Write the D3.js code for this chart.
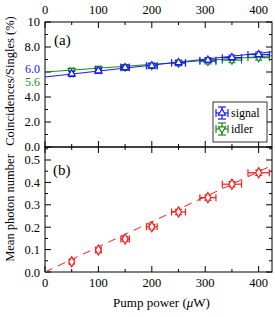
<!DOCTYPE html>
<html>
<head>
<meta charset="utf-8">
<script src="https://d3js.org/d3.v7.min.js"></script>
<style>
  body { margin: 0; background: #fff; }
  text { font-family: "Liberation Serif", "Times New Roman", serif; }
</style>
</head>
<body>
<div id="chart"></div>
<script>
// pump power (uW)
const power = [50, 100, 150, 200, 250, 305, 350, 400];
const powerErr = [3, 5, 8, 10, 13, 15, 18, 20];

// panel (a) coincidences / singles (%)
const signal = [5.85, 6.1, 6.35, 6.5, 6.75, 6.95, 7.15, 7.4];
const idler = [6.1, 6.25, 6.4, 6.5, 6.7, 6.85, 6.95, 7.15];
const ratioErr = [0.2, 0.2, 0.2, 0.2, 0.2, 0.2, 0.2, 0.2];
const signalFit = [5.6, 7.62];  // at 0 and 425
const idlerFit = [6.0, 7.3];

// panel (b) mean photon number
const photon = [0.046, 0.098, 0.147, 0.202, 0.268, 0.332, 0.392, 0.443];
const photonErr = [0.01, 0.01, 0.01, 0.01, 0.012, 0.012, 0.012, 0.012];
const photonFit = [0, 0.476];

const width = 275, height = 317;
const left = 45, right = 272;
const aTop = 22, aBot = 147, bTop = 147, bBot = 272;

const svg = d3.select('#chart').append('svg')
  .attr('width', width)
  .attr('height', height);

const x = d3.scaleLinear().domain([0, 425]).range([left, right]);
const ya = d3.scaleLinear().domain([0, 10]).range([aBot, aTop]);
const yb = d3.scaleLinear().domain([0, 0.558]).range([bBot, bTop]);

const blue = '#1a1aff', green = '#1a8c1a', red = '#ff1a1a';
const tickFont = '12.5px';

// ticks drawn inward on all sides
function frame(y, top, bot, majorY, minorY) {
  const g = svg.append('g');
  g.append('rect').attr('x', left).attr('y', top)
    .attr('width', right - left).attr('height', bot - top)
    .attr('fill', 'none').attr('stroke', '#000').attr('stroke-width', 1);
  d3.range(0, 426, 50).forEach(v => {
    const len = v % 100 === 0 ? 6 : 3;
    g.append('line').attr('x1', x(v)).attr('x2', x(v)).attr('y1', bot).attr('y2', bot - len).attr('stroke', '#000');
    g.append('line').attr('x1', x(v)).attr('x2', x(v)).attr('y1', top).attr('y2', top + len).attr('stroke', '#000');
  });
  minorY.forEach(v => {
    const major = majorY.some(m => Math.abs(m - v) < 1e-9);
    const len = major ? 6 : 3;
    g.append('line').attr('x1', left).attr('x2', left + len).attr('y1', y(v)).attr('y2', y(v)).attr('stroke', '#000');
    g.append('line').attr('x1', right).attr('x2', right - len).attr('y1', y(v)).attr('y2', y(v)).attr('stroke', '#000');
  });
  return g;
}

frame(ya, aTop, aBot, [0, 2, 4, 6, 8, 10], d3.range(0, 10.01, 1));
frame(yb, bTop, bBot, [0, 0.1, 0.2, 0.3, 0.4, 0.5], d3.range(0, 0.551, 0.05));

// y tick labels (a)
const aLabels = [[0, '0.0'], [2, '2.0'], [4, '4.0'], [8, '8.0'], [10, '10']];
svg.selectAll('.ya').data(aLabels).join('text')
  .attr('x', left - 5).attr('y', d => ya(d[0]) + 4)
  .attr('text-anchor', 'end').style('font-size', tickFont)
  .text(d => d[1]);
svg.append('text').attr('x', left - 5).attr('y', 73)
  .attr('text-anchor', 'end').style('font-size', '12px').attr('fill', blue).text('6.0');
svg.append('text').attr('x', left - 5).attr('y', 86)
  .attr('text-anchor', 'end').style('font-size', '12px').attr('fill', green).text('5.6');

// y tick labels (b)
svg.selectAll('.yb').data([0, 0.1, 0.2, 0.3, 0.4, 0.5]).join('text')
  .attr('x', left - 5).attr('y', d => yb(d) + 4.5)
  .attr('text-anchor', 'end').style('font-size', tickFont)
  .text(d => d.toFixed(1));

// x tick labels top and bottom
[0, 100, 200, 300, 400].forEach(v => {
  svg.append('text').attr('x', x(v)).attr('y', 14)
    .attr('text-anchor', 'middle').style('font-size', tickFont).text(v);
  svg.append('text').attr('x', x(v)).attr('y', 287)
    .attr('text-anchor', 'middle').style('font-size', tickFont).text(v);
});

svg.append('text').attr('x', (left + right) / 2 + 3).attr('y', 307)
  .attr('text-anchor', 'middle').style('font-size', '13px')
  .html('Pump power (<tspan font-style="italic">\u03bc</tspan>W)');

svg.append('text')
  .attr('transform', 'translate(14, 81) rotate(-90)')
  .attr('text-anchor', 'middle').style('font-size', '12.5px')
  .text('Coincidences/Singles (%)');
svg.append('text')
  .attr('transform', 'translate(14, 208) rotate(-90)')
  .attr('text-anchor', 'middle').style('font-size', '12.5px')
  .text('Mean photon number');

svg.append('text').attr('x', 54).attr('y', 45).style('font-size', '15px').text('(a)');
svg.append('text').attr('x', 53).attr('y', 175).style('font-size', '15px').text('(b)');

// fit lines
svg.append('line').attr('x1', x(0)).attr('x2', x(425))
  .attr('y1', ya(idlerFit[0])).attr('y2', ya(idlerFit[1])).attr('stroke', green).attr('stroke-width', 1.2);
svg.append('line').attr('x1', x(0)).attr('x2', x(425))
  .attr('y1', ya(signalFit[0])).attr('y2', ya(signalFit[1])).attr('stroke', blue).attr('stroke-width', 1.2);
svg.append('line').attr('x1', x(0)).attr('x2', x(425))
  .attr('y1', yb(photonFit[0])).attr('y2', yb(photonFit[1]))
  .attr('stroke', red).attr('stroke-width', 1).attr('stroke-dasharray', '8,6');

function errorBars(vals, yErr, y, color) {
  const g = svg.append('g').attr('stroke', color).attr('stroke-width', 1.2).attr('fill', 'none');
  vals.forEach((v, i) => {
    const cx = x(power[i]), cy = y(v);
    const x0 = x(power[i] - powerErr[i]), x1 = x(power[i] + powerErr[i]);
    const y0 = y(v - yErr[i]), y1 = y(v + yErr[i]);
    g.append('line').attr('x1', x0).attr('x2', x1).attr('y1', cy).attr('y2', cy);
    g.append('line').attr('x1', x0).attr('x2', x0).attr('y1', cy - 3.5).attr('y2', cy + 3.5);
    g.append('line').attr('x1', x1).attr('x2', x1).attr('y1', cy - 3.5).attr('y2', cy + 3.5);
    g.append('line').attr('x1', cx).attr('x2', cx).attr('y1', y0).attr('y2', y1);
    g.append('line').attr('x1', cx - 3.5).attr('x2', cx + 3.5).attr('y1', y0).attr('y2', y0);
    g.append('line').attr('x1', cx - 3.5).attr('x2', cx + 3.5).attr('y1', y1).attr('y2', y1);
  });
  return g;
}

const triUp = d3.symbol().type(d3.symbolTriangle).size(22);
const diamond = d3.symbol().type(d3.symbolDiamond).size(30);

errorBars(idler, ratioErr, ya, green);
svg.selectAll('.idl').data(idler).join('path')
  .attr('transform', (d, i) => `translate(${x(power[i])},${ya(d)}) rotate(180)`)
  .attr('d', triUp).attr('fill', '#fff').attr('stroke', green).attr('stroke-width', 1.2);
errorBars(signal, ratioErr, ya, blue);
svg.selectAll('.sig').data(signal).join('path')
  .attr('transform', (d, i) => `translate(${x(power[i])},${ya(d)})`)
  .attr('d', triUp).attr('fill', '#fff').attr('stroke', blue).attr('stroke-width', 1.2);

errorBars(photon, photonErr, yb, red);
svg.selectAll('.ph').data(photon).join('path')
  .attr('transform', (d, i) => `translate(${x(power[i])},${yb(d)})`)
  .attr('d', diamond).attr('fill', '#fff').attr('stroke', red).attr('stroke-width', 1.2);

// legend
const lg = svg.append('g');
lg.append('rect').attr('x', 213).attr('y', 102).attr('width', 54).attr('height', 40)
  .attr('fill', '#fff').attr('stroke', '#000').attr('stroke-width', 0.8);
[['signal', blue, 0], ['idler', green, 180]].forEach((d, i) => {
  const cy = 113 + i * 16, cx = 222;
  const g = lg.append('g').attr('stroke', d[1]).attr('stroke-width', 1.2).attr('fill', 'none');
  g.append('line').attr('x1', cx - 6).attr('x2', cx + 6).attr('y1', cy).attr('y2', cy);
  g.append('line').attr('x1', cx - 6).attr('x2', cx - 6).attr('y1', cy - 4).attr('y2', cy + 4);
  g.append('line').attr('x1', cx + 6).attr('x2', cx + 6).attr('y1', cy - 4).attr('y2', cy + 4);
  g.append('line').attr('x1', cx).attr('x2', cx).attr('y1', cy - 6).attr('y2', cy + 6);
  g.append('line').attr('x1', cx - 4).attr('x2', cx + 4).attr('y1', cy - 6).attr('y2', cy - 6);
  g.append('line').attr('x1', cx - 4).attr('x2', cx + 4).attr('y1', cy + 6).attr('y2', cy + 6);
  lg.append('path').attr('transform', `translate(${cx},${cy}) rotate(${d[2]})`)
    .attr('d', triUp).attr('fill', '#fff').attr('stroke', d[1]).attr('stroke-width', 1.2);
  lg.append('text').attr('x', cx + 9).attr('y', cy + 4).style('font-size', '12px').text(d[0]);
});
</script>
</body>
</html>
